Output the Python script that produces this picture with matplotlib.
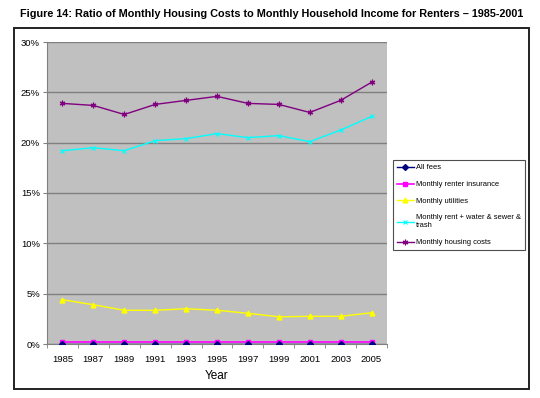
import matplotlib
matplotlib.use("Agg")
import matplotlib.pyplot as plt
from matplotlib.patches import Rectangle
from matplotlib.ticker import FixedLocator, PercentFormatter

years = ["1985", "1987", "1989", "1991", "1993", "1995", "1997", "1999", "2001", "2003", "2005"]
all_fees = [0.02, 0.02, 0.02, 0.02, 0.02, 0.02, 0.02, 0.02, 0.02, 0.02, 0.02]
renter_insurance = [0.2, 0.2, 0.2, 0.2, 0.2, 0.2, 0.2, 0.2, 0.2, 0.2, 0.2]
utilities = [4.4, 3.9, 3.35, 3.35, 3.5, 3.35, 3.05, 2.7, 2.75, 2.75, 3.1]
rent_water_sewer = [19.2, 19.5, 19.2, 20.2, 20.4, 20.9, 20.5, 20.7, 20.1, 21.25, 22.6]
housing_costs = [23.9, 23.7, 22.8, 23.8, 24.2, 24.6, 23.9, 23.8, 23.0, 24.2, 26.0]

plt.rcParams['font.family'] = ['Liberation Sans', 'DejaVu Sans']

fig = plt.figure(figsize=(5.4, 3.98), dpi=100)
W, H = 540, 398

fig.text(272 / W, 1 - 14 / H,
         "Figure 14: Ratio of Monthly Housing Costs to Monthly Household Income for Renters \u2013 1985-2001",
         ha='center', va='center', fontsize=7.85, fontweight='bold')

# outer chart border
fig.patches.append(Rectangle((14 / W, 1 - 389 / H), (529 - 14) / W, (389 - 28) / H,
                             transform=fig.transFigure, fill=False, edgecolor='#222222', linewidth=1.4))

ax = fig.add_axes([47 / W, 1 - 344 / H, (387 - 47) / W, (344 - 42) / H])
ax.set_facecolor('#C0C0C0')
x = list(range(len(years)))

ax.plot(x, all_fees, color='#000080', marker='D', markersize=3, linewidth=1, label='All fees', zorder=5)
ax.plot(x, renter_insurance, color='#FF00FF', marker='s', markersize=3.5, linewidth=1.2, label='Monthly renter insurance', zorder=4)
ax.plot(x, utilities, color='#FFFF00', marker='^', markersize=3.5, linewidth=1, label='Monthly utilities', zorder=4)
ax.plot(x, rent_water_sewer, color='#00FFFF', marker='x', markersize=3.5, markeredgewidth=0.8, linewidth=1,
        label='Monthly rent + water & sewer &\ntrash', zorder=4)
ax.plot(x, housing_costs, color='#800080', marker=(6, 2, 0), markersize=4, markeredgewidth=0.9, linewidth=1,
        label='Monthly housing costs', zorder=4)

ax.set_xlim(-0.5, len(years) - 0.5)
ax.set_ylim(0, 30)
ax.yaxis.set_major_locator(FixedLocator([0, 5, 10, 15, 20, 25, 30]))
ax.yaxis.set_major_formatter(PercentFormatter(decimals=0))
ax.grid(axis='y', color='#808080', linewidth=1)
ax.set_axisbelow(True)

ax.set_xticks(x)
ax.set_xticklabels(years)
ax.set_xticks([i - 0.5 for i in range(len(years) + 1)], minor=True)
ax.tick_params(axis='x', which='major', length=0, labelsize=6.8, pad=8)
ax.tick_params(axis='x', which='minor', length=3, direction='out', color='#808080')
ax.tick_params(axis='y', length=3, direction='out', color='#808080', labelsize=6.8, pad=2)

for s in ['top', 'right']:
    ax.spines[s].set_visible(False)
ax.spines['left'].set_color('#808080')
ax.spines['bottom'].set_color('#808080')

ax.set_xlabel('Year', fontsize=8.5, labelpad=4)

leg = fig.legend(loc='upper left', bbox_to_anchor=(393 / W, 1 - 160 / H), bbox_transform=fig.transFigure,
                 fontsize=5.45, frameon=True, fancybox=False, edgecolor='#222222', handlelength=2.2,
                 labelspacing=1.25, borderpad=0.55, borderaxespad=0.0, handletextpad=0.3)
leg.get_frame().set_linewidth(0.8)

fig.savefig('out.png', dpi=100)
